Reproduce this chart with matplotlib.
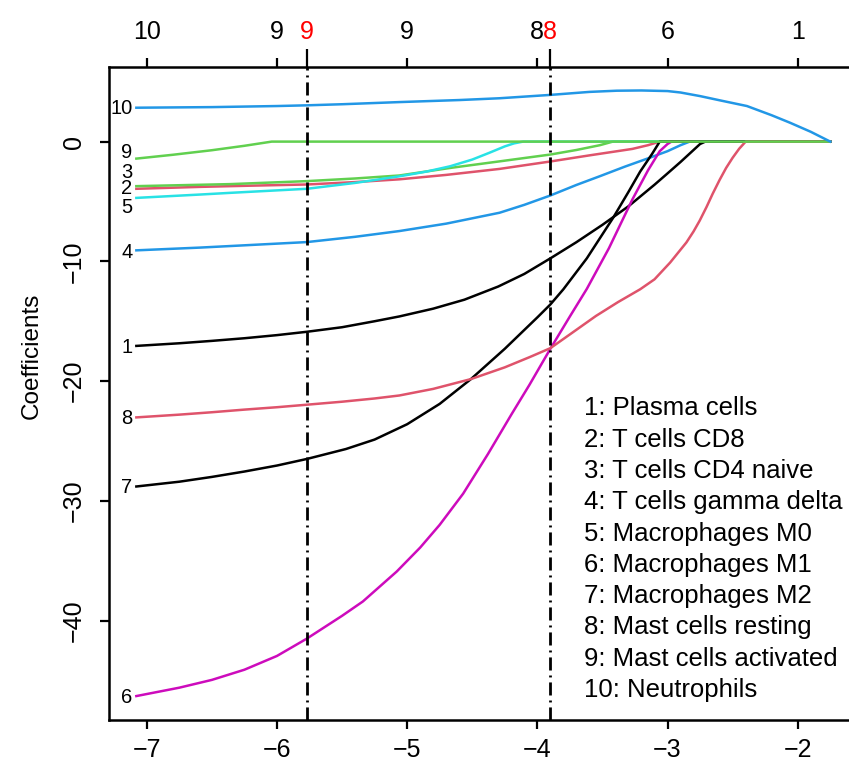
import matplotlib
matplotlib.use("Agg")
import matplotlib.pyplot as plt

plt.rcParams['font.family'] = ['Liberation Sans', 'DejaVu Sans']

# coefficient paths (x = log lambda)
x1 = [-7.08, -6.75, -6.5, -6.25, -6.0, -5.77, -5.5, -5.25, -5.06, -4.8, -4.56, -4.3, -4.1,
      -3.90, -3.7, -3.5, -3.3, -3.1, -3.01, -2.9, -2.8, -2.75, -2.71, -1.75]
y1 = [-17.06, -16.84, -16.64, -16.42, -16.16, -15.88, -15.5, -15.0, -14.6, -13.95, -13.2,
      -12.1, -11.05, -9.75, -8.4, -6.95, -5.4, -3.6, -2.75, -1.7, -0.7, -0.2, 0, 0]
x2 = [-7.08, -6.59, -6.2, -5.77, -5.4, -5.06, -4.7, -4.29, -3.90, -3.6, -3.27, -3.15, -3.06, -1.75]
y2 = [-3.94, -3.78, -3.68, -3.58, -3.38, -3.15, -2.78, -2.28, -1.66, -1.15, -0.61, -0.3, 0, 0]
x3 = [-7.08, -6.36, -5.77, -5.4, -5.06, -4.67, -4.29, -3.90, -3.7, -3.52, -3.42, -1.75]
y3 = [-3.72, -3.55, -3.3, -3.08, -2.83, -2.2, -1.65, -1.08, -0.7, -0.3, 0, 0]
x4 = [-7.08, -6.59, -6.25, -5.77, -5.4, -5.06, -4.7, -4.29, -4.1, -3.90, -3.7, -3.52,
      -3.33, -3.14, -3.0, -2.9, -2.83, -1.75]
y4 = [-9.08, -8.85, -8.66, -8.39, -7.95, -7.47, -6.85, -5.94, -5.28, -4.5, -3.62, -2.89,
      -2.1, -1.36, -0.8, -0.3, 0, 0]
x5 = [-7.08, -6.59, -6.36, -5.77, -5.4, -5.06, -4.85, -4.67, -4.5, -4.37, -4.25, -4.18,
      -4.11, -1.75]
y5 = [-4.7, -4.42, -4.28, -3.94, -3.45, -2.9, -2.5, -2.06, -1.5, -0.94, -0.4, -0.15, 0, 0]
x6 = [-7.08, -6.75, -6.5, -6.25, -6.0, -5.77, -5.5, -5.34, -5.08, -4.9, -4.75, -4.57,
      -4.38, -4.2, -4.06, -3.90, -3.75, -3.62, -3.45, -3.27, -3.15, -3.06, -3.0, -2.97, -1.75]
y6 = [-46.3, -45.6, -44.95, -44.1, -42.95, -41.5, -39.6, -38.4, -35.9, -33.9, -32.0,
      -29.4, -26.1, -22.8, -20.3, -17.3, -14.6, -12.3, -8.9, -4.83, -2.4, -0.8, -0.2, 0, 0]
x7 = [-7.08, -6.75, -6.5, -6.25, -6.0, -5.77, -5.47, -5.25, -5.0, -4.75, -4.51, -4.25,
      -4.0, -3.90, -3.80, -3.62, -3.42, -3.30, -3.21, -3.12, -3.06, -1.75]
y7 = [-28.8, -28.4, -28.0, -27.55, -27.05, -26.5, -25.67, -24.88, -23.6, -21.9, -19.83,
      -17.3, -14.68, -13.6, -12.33, -9.75, -6.4, -4.2, -2.5, -1.05, 0, 0]
x8 = [-7.08, -6.75, -6.5, -6.25, -6.0, -5.77, -5.5, -5.25, -5.06, -4.8, -4.51, -4.25,
      -4.06, -3.90, -3.75, -3.55, -3.38, -3.21, -3.10, -2.98, -2.855, -2.80, -2.753,
      -2.70, -2.653, -2.60, -2.55, -2.50, -2.45, -2.40, -1.75]
y8 = [-23.03, -22.8, -22.6, -22.38, -22.18, -21.97, -21.72, -21.45, -21.2, -20.65,
      -19.83, -18.85, -18.0, -17.25, -16.1, -14.56, -13.4, -12.33, -11.5, -10.1, -8.42,
      -7.5, -6.6, -5.45, -4.35, -3.2, -2.2, -1.35, -0.6, 0, 0]
x9 = [-7.08, -6.8, -6.5, -6.25, -6.04, -1.75]
y9 = [-1.42, -1.1, -0.72, -0.35, 0, 0]
x10 = [-7.08, -6.5, -6.0, -5.77, -5.5, -5.06, -4.6, -4.29, -3.90, -3.6, -3.39, -3.2,
       -3.0, -2.9, -2.75, -2.6, -2.39, -2.2, -2.06, -1.9, -1.75]
y10 = [2.83, 2.88, 2.97, 3.03, 3.12, 3.3, 3.47, 3.62, 3.9, 4.15, 4.25, 4.27, 4.22, 4.1,
       3.8, 3.45, 2.97, 2.2, 1.58, 0.82, 0.0]

paths = [(x1, y1), (x2, y2), (x3, y3), (x4, y4), (x5, y5),
         (x6, y6), (x7, y7), (x8, y8), (x9, y9), (x10, y10)]
path_labels = ['1', '2', '3', '4', '5', '6', '7', '8', '9', '10']
label_y = [-17.2, -3.95, -2.6, -9.25, -5.5, -46.4, -28.9, -23.1, -0.92, 2.75]

cell_types = ['Plasma cells', 'T cells CD8', 'T cells CD4 naive', 'T cells gamma delta',
              'Macrophages M0', 'Macrophages M1', 'Macrophages M2',
              'Mast cells resting', 'Mast cells activated', 'Neutrophils']

# number of nonzero coefficients on the top axis
top_pos = [-7, -6, -5, -4, -3, -2]
top_lab = ['10', '9', '9', '8', '6', '1']
lambda_min, lambda_1se = -5.771, -3.905
lambda_lab = ['9', '8']

palette = ['black', '#DF536B', '#61D04F', '#2297E6', '#28E2E5', '#CD0BBC']

fig = plt.figure(figsize=(8.49, 7.69), dpi=100)
ax = fig.add_axes([0.1284, 0.0637, 0.8822, 0.8498])

for i, (xs, ys) in enumerate(paths):
    ax.plot(xs, ys, color=palette[i % 6], lw=1.8, solid_joinstyle='round')

for lab, yy in zip(path_labels, label_y):
    ax.text(-7.11, yy, lab, ha='right', va='center', fontsize=14.5)

for v in (lambda_min, lambda_1se):
    ax.axvline(v, color='black', lw=2, linestyle=(0, (4.7, 1.8, 0.7, 1.8)))

for i, name in enumerate(cell_types):
    ax.text(0.634, 0.477 - i * 0.0479, f'{i + 1}: {name}', transform=ax.transAxes,
            ha='left', va='center', fontsize=18.5)

ax.set_xlim(-7.29, -1.537)
ax.set_ylim(-48.3, 6.27)
ax.set_xticks([-7, -6, -5, -4, -3, -2])
ax.set_yticks([0, -10, -20, -30, -40])
ax.tick_params(direction='out', length=6.5, width=1.6, labelsize=18)
ax.tick_params(axis='x', pad=6.6)
ax.tick_params(axis='y', pad=10)
for t in ax.get_yticklabels():
    t.set_rotation(90)
    t.set_va('center')
ax.set_ylabel('Coefficients', fontsize=17.5)
ax.yaxis.set_label_coords(-0.0883, 0.558)
for s in ('left', 'bottom', 'top'):
    ax.spines[s].set_linewidth(1.8)
ax.spines['right'].set_visible(False)

top = ax.twiny()
top.set_xlim(ax.get_xlim())
top.set_xticks(top_pos + [lambda_min, lambda_1se])
top.set_xticklabels(top_lab + lambda_lab)
top.tick_params(direction='out', length=6.5, width=1.6, labelsize=18, pad=10)
for tk in top.xaxis.get_major_ticks()[len(top_pos):]:
    tk.tick2line.set_markersize(13)
    tk.label2.set_color('red')
for s in top.spines.values():
    s.set_visible(False)

fig.savefig('out.png', dpi=100)
